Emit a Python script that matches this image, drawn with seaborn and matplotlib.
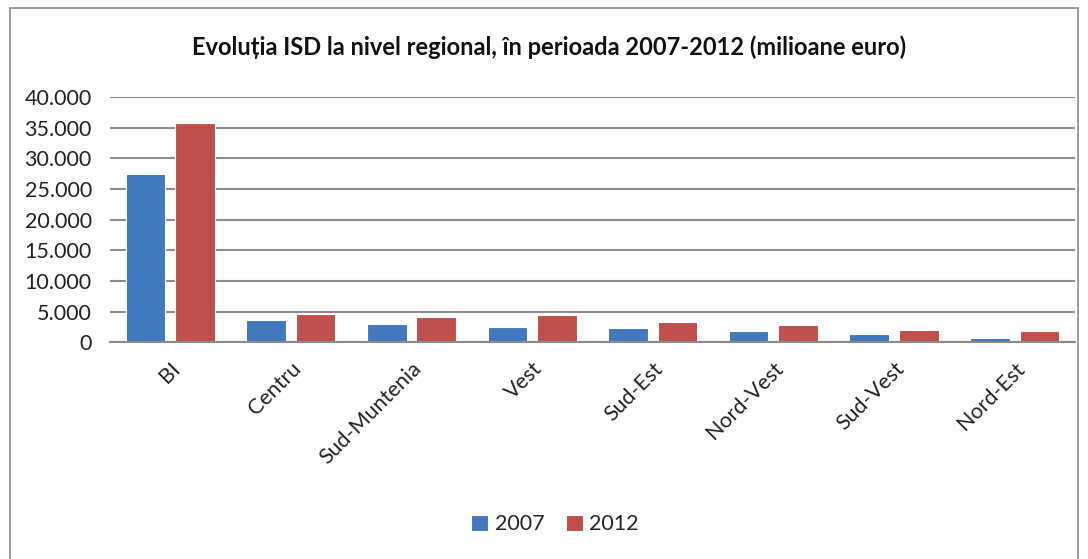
import matplotlib
matplotlib.use("Agg")
import matplotlib.pyplot as plt
import seaborn as sns
import pandas as pd
from matplotlib.patches import Rectangle
from matplotlib.ticker import FuncFormatter, MultipleLocator

regions = ["BI", "Centru", "Sud-Muntenia", "Vest", "Sud-Est", "Nord-Vest", "Sud-Vest", "Nord-Est"]
v2007 = [27400, 3540, 2880, 2390, 2280, 1850, 1300, 600]
v2012 = [35800, 4570, 4130, 4460, 3210, 2770, 2010, 1740]
years = ["2007", "2012"]
colors = ["#4178BE", "#C0504D"]

df = pd.DataFrame({
    "Regiune": regions * 2,
    "An": [years[0]] * len(regions) + [years[1]] * len(regions),
    "Valoare": v2007 + v2012,
})

sns.set_theme(style="white")
plt.rcParams['font.family'] = ['Lato', 'DejaVu Sans']

fig = plt.figure(figsize=(10.88, 5.59), dpi=100)
ax = fig.add_axes([0.101, 0.388, 0.887, 0.438])

sns.barplot(data=df, x="Regiune", y="Valoare", hue="An", palette=colors,
            width=0.82, gap=0.2, ax=ax, edgecolor="white", linewidth=0.8,
            saturation=1)

ax.set_ylim(0, 40000)
ax.set_xlim(-0.5, len(regions) - 0.5)
ax.yaxis.set_major_locator(MultipleLocator(5000))
ax.yaxis.set_major_formatter(FuncFormatter(lambda v, p: f"{int(v):,}".replace(",", ".")))
ax.grid(axis="y", color="#8C8C8C", linewidth=1.5)
ax.set_axisbelow(True)
for s in ["top", "right", "left"]:
    ax.spines[s].set_visible(False)
ax.spines["bottom"].set_color("#8C8C8C")
ax.spines["bottom"].set_linewidth(1.5)
ax.set_xlabel("")
ax.set_ylabel("")
ax.tick_params(axis="y", labelsize=15.5, colors="#222222", length=0, pad=13)
ax.tick_params(axis="x", labelsize=15.5, colors="#222222", length=0, pad=12)
for lab in ax.get_xticklabels():
    lab.set_rotation(45)
    lab.set_ha("right")
    lab.set_rotation_mode("anchor")

fig.text(0.505, 0.915, "Evoluția ISD la nivel regional, în perioada 2007-2012 (milioane euro)",
         ha="center", va="center", fontsize=17, fontweight="bold",
         family=["Lato", "DejaVu Sans"], color="#111111")

handles, labels = ax.get_legend_handles_labels()
ax.legend_.remove()
fig.legend(handles, labels, loc="center", bbox_to_anchor=(0.51, 0.062), ncol=2,
           frameon=False, fontsize=15.5, handlelength=0.8, handleheight=0.8,
           columnspacing=1.0, handletextpad=0.3)

fig.patches.append(Rectangle((10 / 1088, -0.01), 1068 / 1088, 1 - 8 / 559 + 0.01,
                             transform=fig.transFigure, fill=False,
                             edgecolor="#8C8C8C", linewidth=1.2))

fig.savefig("out.png", dpi=100)
